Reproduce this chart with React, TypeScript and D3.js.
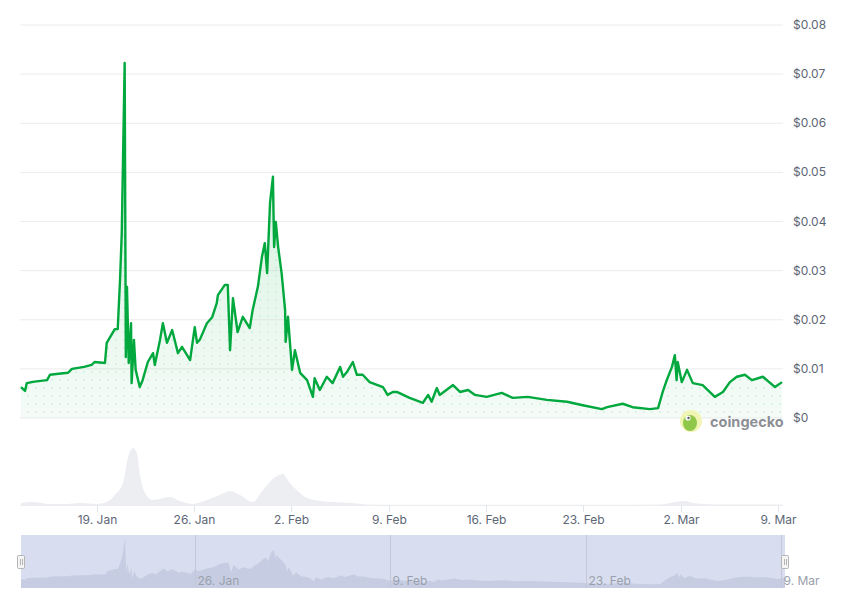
import * as d3 from "d3";

const parseHour = d3.timeParse("%Y-%m-%d %H");
const parseDay = d3.timeParse("%Y-%m-%d");

// price in USD, hourly-ish samples
const priceData: [string, number][] = [
  ["2025-01-13 13", 0.0063], ["2025-01-13 20", 0.0055], ["2025-01-13 23", 0.0071],
  ["2025-01-14 12", 0.0074], ["2025-01-15 10", 0.0077], ["2025-01-15 15", 0.0088],
  ["2025-01-16 06", 0.0090], ["2025-01-16 22", 0.0092], ["2025-01-17 05", 0.0100],
  ["2025-01-18 02", 0.0104], ["2025-01-18 15", 0.0108], ["2025-01-18 20", 0.0114],
  ["2025-01-19 14", 0.0112],
  ["2025-01-19 17", 0.0153], ["2025-01-20 07", 0.0181], ["2025-01-20 12", 0.0181],
  ["2025-01-20 16", 0.0281], ["2025-01-20 19", 0.0377], ["2025-01-21 00", 0.0723],
  ["2025-01-21 02", 0.0124], ["2025-01-21 04", 0.0267], ["2025-01-21 07", 0.0112],
  ["2025-01-21 11", 0.0193], ["2025-01-21 12", 0.0071], ["2025-01-21 16", 0.0159],
  ["2025-01-21 19", 0.0098], ["2025-01-22 02", 0.0063], ["2025-01-22 07", 0.0077],
  ["2025-01-22 16", 0.0114], ["2025-01-23 01", 0.0132], ["2025-01-23 04", 0.0108],
  ["2025-01-23 13", 0.0159], ["2025-01-23 18", 0.0193], ["2025-01-24 01", 0.0153],
  ["2025-01-24 10", 0.0179], ["2025-01-24 20", 0.0132], ["2025-01-25 03", 0.0145],
  ["2025-01-25 17", 0.0118], ["2025-01-26 01", 0.0185], ["2025-01-26 05", 0.0153],
  ["2025-01-26 10", 0.0160], ["2025-01-26 22", 0.0193], ["2025-01-27 07", 0.0205],
  ["2025-01-27 15", 0.0234], ["2025-01-27 17", 0.0250], ["2025-01-28 05", 0.0271],
  ["2025-01-28 10", 0.0271], ["2025-01-28 14", 0.0138], ["2025-01-28 19", 0.0244],
  ["2025-01-29 03", 0.0175], ["2025-01-29 12", 0.0206], ["2025-01-30 00", 0.0183],
  ["2025-01-30 05", 0.0220], ["2025-01-30 14", 0.0267], ["2025-01-30 21", 0.0328],
  ["2025-01-31 02", 0.0356], ["2025-01-31 06", 0.0295], ["2025-01-31 11", 0.0438],
  ["2025-01-31 16", 0.0491], ["2025-01-31 18", 0.0348], ["2025-01-31 21", 0.0399],
  ["2025-02-01 01", 0.0348], ["2025-02-01 07", 0.0295], ["2025-02-01 13", 0.0220],
  ["2025-02-01 14", 0.0155], ["2025-02-01 18", 0.0206], ["2025-02-02 01", 0.0098],
  ["2025-02-02 06", 0.0138], ["2025-02-02 15", 0.0092], ["2025-02-03 03", 0.0077],
  ["2025-02-03 13", 0.0043], ["2025-02-03 16", 0.0081], ["2025-02-04 01", 0.0057],
  ["2025-02-04 13", 0.0084], ["2025-02-04 23", 0.0071], ["2025-02-05 12", 0.0104],
  ["2025-02-05 17", 0.0084], ["2025-02-06 00", 0.0094], ["2025-02-06 10", 0.0114],
  ["2025-02-06 17", 0.0088], ["2025-02-07 03", 0.0088], ["2025-02-07 15", 0.0073],
  ["2025-02-08 14", 0.0063], ["2025-02-08 22", 0.0047], ["2025-02-09 07", 0.0053],
  ["2025-02-09 14", 0.0053], ["2025-02-10 12", 0.0041], ["2025-02-11 11", 0.0031],
  ["2025-02-11 20", 0.0047], ["2025-02-12 02", 0.0033], ["2025-02-12 11", 0.0061],
  ["2025-02-12 16", 0.0047], ["2025-02-13 15", 0.0067], ["2025-02-14 03", 0.0053],
  ["2025-02-14 17", 0.0057], ["2025-02-15 05", 0.0047], ["2025-02-16 01", 0.0043],
  ["2025-02-17 03", 0.0051], ["2025-02-17 22", 0.0041], ["2025-02-19 00", 0.0043],
  ["2025-02-20 09", 0.0037], ["2025-02-21 20", 0.0033], ["2025-02-22 23", 0.0026],
  ["2025-02-24 08", 0.0018], ["2025-02-24 17", 0.0022], ["2025-02-25 20", 0.0029],
  ["2025-02-26 13", 0.0022], ["2025-02-27 19", 0.0018], ["2025-02-28 09", 0.0020],
  ["2025-02-28 17", 0.0053], ["2025-03-01 00", 0.0077], ["2025-03-01 09", 0.0104],
  ["2025-03-01 14", 0.0128], ["2025-03-01 17", 0.0077], ["2025-03-01 19", 0.0114],
  ["2025-03-02 02", 0.0073], ["2025-03-02 11", 0.0098], ["2025-03-02 21", 0.0071],
  ["2025-03-03 14", 0.0067], ["2025-03-04 11", 0.0043], ["2025-03-05 01", 0.0053],
  ["2025-03-05 13", 0.0073], ["2025-03-06 01", 0.0084], ["2025-03-06 15", 0.0088],
  ["2025-03-07 03", 0.0077], ["2025-03-07 22", 0.0084], ["2025-03-08 19", 0.0063],
  ["2025-03-09 07", 0.0073],
];

// 24h volume in USD
const volumeData: [string, number][] = [
  ["2025-01-13 13", 200000], ["2025-01-14 09", 300000], ["2025-01-15 15", 100000],
  ["2025-01-16 20", 100000], ["2025-01-17 19", 200000], ["2025-01-19 00", 100000],
  ["2025-01-19 17", 300000], ["2025-01-20 07", 1000000], ["2025-01-20 21", 2200000],
  ["2025-01-21 06", 4800000], ["2025-01-21 14", 5700000], ["2025-01-21 21", 5200000],
  ["2025-01-22 02", 3200000], ["2025-01-22 11", 1200000], ["2025-01-23 01", 500000],
  ["2025-01-24 06", 800000], ["2025-01-24 23", 400000], ["2025-01-25 22", 100000],
  ["2025-01-26 22", 500000], ["2025-01-27 20", 1000000], ["2025-01-28 14", 1400000],
  ["2025-01-29 07", 1000000], ["2025-01-30 05", 300000], ["2025-01-30 23", 1500000],
  ["2025-01-31 16", 2600000], ["2025-02-01 09", 3100000], ["2025-02-01 21", 2200000],
  ["2025-02-02 09", 1500000], ["2025-02-03 03", 700000], ["2025-02-04 01", 400000],
  ["2025-02-04 23", 300000], ["2025-02-06 10", 200000], ["2025-02-07 10", 50000],
  ["2025-02-09 19", 30000], ["2025-02-17 00", 20000], ["2025-02-24 05", 20000],
  ["2025-02-28 12", 50000], ["2025-03-01 05", 200000], ["2025-03-02 04", 400000],
  ["2025-03-03 04", 150000], ["2025-03-04 20", 50000], ["2025-03-09 07", 50000],
];

const priceTicks = [0, 0.01, 0.02, 0.03, 0.04, 0.05, 0.06, 0.07, 0.08];
const dateTicks = ["2025-01-19", "2025-01-26", "2025-02-02", "2025-02-09", "2025-02-16", "2025-02-23", "2025-03-02", "2025-03-09"];
const navTicks = ["2025-01-26", "2025-02-09", "2025-02-23", "2025-03-09"];

const W = 843;
const H = 599;
const LINE = "#00a83e";
const TEXT = "#5c6675";

export default function App() {
  const prices = priceData.map(([t, v]) => ({ t: parseHour(t) as Date, v }));
  const volumes = volumeData.map(([t, v]) => ({ t: parseHour(t) as Date, v }));
  const tExtent = d3.extent(prices, d => d.t) as [Date, Date];

  const x = d3.scaleTime().domain(tExtent).range([21, 782]);
  const y = d3.scaleLinear().domain([0, 0.08]).range([418, 25]);
  const yVol = d3.scaleLinear().domain([0, 5.8e6]).range([505, 447]);

  const xNav = d3.scaleTime().domain(tExtent).range([21, 785]);
  const yNav = d3.scalePow().exponent(0.7).domain([0, d3.max(prices, d => d.v) as number]).range([588, 538]);

  const line = d3.line<{ t: Date; v: number }>().x(d => x(d.t)).y(d => y(d.v));
  const area = d3.area<{ t: Date; v: number }>().x(d => x(d.t)).y0(y(0)).y1(d => y(d.v));
  const volArea = d3.area<{ t: Date; v: number }>()
    .x(d => x(d.t)).y0(yVol(0)).y1(d => yVol(d.v)).curve(d3.curveMonotoneX);
  const navArea = d3.area<{ t: Date; v: number }>()
    .x(d => xNav(d.t)).y0(588).y1(d => yNav(d.v));

  const fmtDay = d3.timeFormat("%-d. %b");

  return (
    <svg width={W} height={H} style={{ position: "absolute", left: 0, top: 0, background: "#fff" }}
         fontFamily="Inter, 'Noto Sans', sans-serif">
      <defs>
        <linearGradient id="fillGrad" x1="0" y1="0" x2="0" y2="1">
          <stop offset="0%" stopColor={LINE} stopOpacity={0.2} />
          <stop offset="100%" stopColor={LINE} stopOpacity={0.04} />
        </linearGradient>
        <pattern id="dots" width="8" height="8" patternUnits="userSpaceOnUse">
          <circle cx="4" cy="4" r="0.9" fill={LINE} fillOpacity={0.13} />
        </pattern>
      </defs>

      {/* grid + right axis */}
      {priceTicks.map(p => (
        <g key={p}>
          <line x1={20} x2={783} y1={y(p)} y2={y(p)} stroke="#ececec" strokeWidth={1} />
          <text x={793} y={y(p) + 4} fontSize={12} fill={TEXT}>{p === 0 ? "$0" : `$${p.toFixed(2)}`}</text>
        </g>
      ))}

      {/* price area + line */}
      <path d={area(prices) ?? ""} fill="url(#fillGrad)" />
      <path d={area(prices) ?? ""} fill="url(#dots)" />
      <path d={line(prices) ?? ""} fill="none" stroke={LINE} strokeWidth={2.4} strokeLinejoin="round" />

      {/* watermark */}
      <g>
        <circle cx={691} cy={421} r={11} fill="#f1f5b4" />
        <ellipse cx={690} cy={423} rx={7} ry={8} fill="#8fc74a" />
        <circle cx={688} cy={418} r={2.6} fill="#fff" />
        <circle cx={688.5} cy={418} r={1.2} fill="#58595b" />
        <text x={710} y={427} fontSize={14.5} fontWeight={700} fill="#8c8f94">coingecko</text>
      </g>

      {/* volume */}
      <path d={volArea(volumes) ?? ""} fill="#eceef2" />
      <line x1={20} x2={783} y1={505.5} y2={505.5} stroke="#eceef2" />

      {/* x axis */}
      {dateTicks.map(s => {
        const d = parseDay(s) as Date;
        const xp = Math.round(x(d)) + 0.5;
        return (
          <g key={s}>
            <line x1={xp} x2={xp} y1={505} y2={512} stroke="#e2e5ea" />
            <text x={xp} y={524} fontSize={12} fill={TEXT} textAnchor="middle">{fmtDay(d)}</text>
          </g>
        );
      })}

      {/* navigator */}
      <rect x={21} y={535} width={764} height={53} fill="#d8deef" />
      <path d={navArea(prices) ?? ""} fill="#c6cde2" />
      {navTicks.map(s => {
        const d = parseDay(s) as Date;
        const xp = Math.round(xNav(d)) + 0.5;
        return (
          <g key={s}>
            {xp < 784 && <line x1={xp} x2={xp} y1={535} y2={588} stroke="#c2c8da" />}
            <text x={xp + 2} y={585} fontSize={12} fill="#9aa0ab">{fmtDay(d)}</text>
          </g>
        );
      })}
      {[21, 785].map(hx => (
        <g key={hx}>
          <rect x={hx - 3.5} y={555.5} width={7} height={13} rx={1} fill="#f4f4f4" stroke="#b5b5b5" />
          <line x1={hx - 0.5} x2={hx - 0.5} y1={559} y2={565} stroke="#b5b5b5" />
          <line x1={hx + 1.5} x2={hx + 1.5} y1={559} y2={565} stroke="#b5b5b5" />
        </g>
      ))}
    </svg>
  );
}
